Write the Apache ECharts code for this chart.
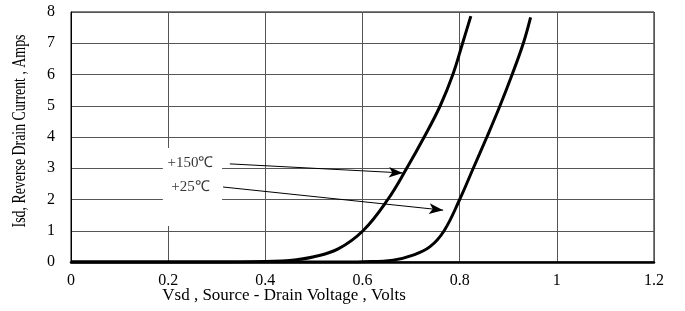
<!DOCTYPE html>
<html>
<head>
<meta charset="utf-8">
<script src="https://cdn.jsdelivr.net/npm/echarts@6/dist/echarts.min.js"></script>
<style>html,body{margin:0;padding:0;background:#fff}#c{width:685px;height:311px}</style>
</head>
<body>
<div id="c"></div>
<script>
const xTicks = [0, 0.2, 0.4, 0.6, 0.8, 1, 1.2];
const yTicks = [0, 1, 2, 3, 4, 5, 6, 7, 8];
const vsd150 = [0, 0.1, 0.2, 0.3, 0.35, 0.4, 0.45, 0.5, 0.55, 0.601, 0.652, 0.691, 0.727, 0.760, 0.786, 0.806, 0.823];
const isd150 = [0, 0, 0, 0, 0.004, 0.02, 0.05, 0.17, 0.42, 1.0, 2.0, 3.0, 4, 5, 6, 7, 7.87];
const vsd25 = [0, 0.2, 0.4, 0.55, 0.6, 0.663, 0.704, 0.739, 0.768, 0.800, 0.828, 0.856, 0.883, 0.908, 0.931, 0.946];
const isd25 = [0, 0, 0, 0, 0.01, 0.06, 0.22, 0.49, 1.0, 2.0, 3.0, 4, 5, 6, 7, 7.83];
const labelNames = ['+150℃', '+25℃'];
const labelPos = [[0.246, 3.17], [0.246, 2.4]];
const arrowFrom = [[0.327, 3.14], [0.313, 2.4]];
const arrowTo = [[0.683, 2.85], [0.766, 1.66]];
const labelBox = [[0.189, 3.65], [0.311, 1.15]];

const zip = (a, b) => a.map((v, i) => [v, b[i]]);
const font = '"Liberation Serif", "Times New Roman", serif';
const chart = echarts.init(document.getElementById('c'));
chart.setOption({
  animation: false,
  grid: { left: 71, right: 31, top: 12, bottom: 49, show: true, borderColor: '#000', borderWidth: 1 },
  xAxis: {
    type: 'value', min: xTicks[0], max: xTicks[xTicks.length - 1], interval: 0.2,
    axisLine: { show: true, onZero: false, lineStyle: { color: '#000', width: 2.5 } },
    axisTick: { show: false },
    axisLabel: { color: '#000', fontFamily: font, fontSize: 16, margin: 11,
      formatter: v => String(parseFloat(v.toFixed(1))) },
    splitLine: { show: true, lineStyle: { color: '#555', width: 1 } }
  },
  yAxis: {
    type: 'value', min: yTicks[0], max: yTicks[yTicks.length - 1], interval: 1,
    axisLine: { show: true, lineStyle: { color: '#000', width: 1 } },
    axisTick: { show: false },
    axisLabel: { color: '#000', fontFamily: font, fontSize: 16, margin: 16 },
    splitLine: { show: true, lineStyle: { color: '#555', width: 1 } }
  },
  graphic: [
    { type: 'text', x: 284, y: 296, style: { text: 'Vsd , Source - Drain Voltage , Volts', font: '17px ' + font, fill: '#000', align: 'center', verticalAlign: 'middle' } },
    { type: 'text', x: 20, y: 131, rotation: Math.PI / 2, scaleX: 0.73, style: { text: 'Isd, Reverse Drain Current , Amps', font: '19px ' + font, fill: '#000', align: 'center', verticalAlign: 'middle' } }
  ],
  series: [
    { type: 'line', data: zip(vsd150, isd150), smooth: 0.4, showSymbol: false, lineStyle: { color: '#000', width: 3 }, z: 3 },
    { type: 'line', data: zip(vsd25, isd25), smooth: 0.4, showSymbol: false, lineStyle: { color: '#000', width: 3 }, z: 3 },
    {
      type: 'line', data: [], z: 4,
      markArea: { silent: true, itemStyle: { color: '#fff' }, data: [[{ coord: labelBox[0] }, { coord: labelBox[1] }]] },
      markLine: {
        silent: true, symbol: ['none', 'arrow'], symbolSize: [8, 14],
        lineStyle: { color: '#000', width: 1, type: 'solid' }, label: { show: false },
        data: arrowFrom.map((f, i) => [{ coord: f }, { coord: arrowTo[i] }])
      }
    },
    {
      type: 'scatter', z: 5, symbolSize: 0,
      data: labelPos.map((p, i) => ({ value: p, name: labelNames[i] })),
      label: { show: true, position: 'inside', formatter: p => p.name, color: '#000', fontFamily: font, fontSize: 15 }
    }
  ]
});
</script>
</body>
</html>
